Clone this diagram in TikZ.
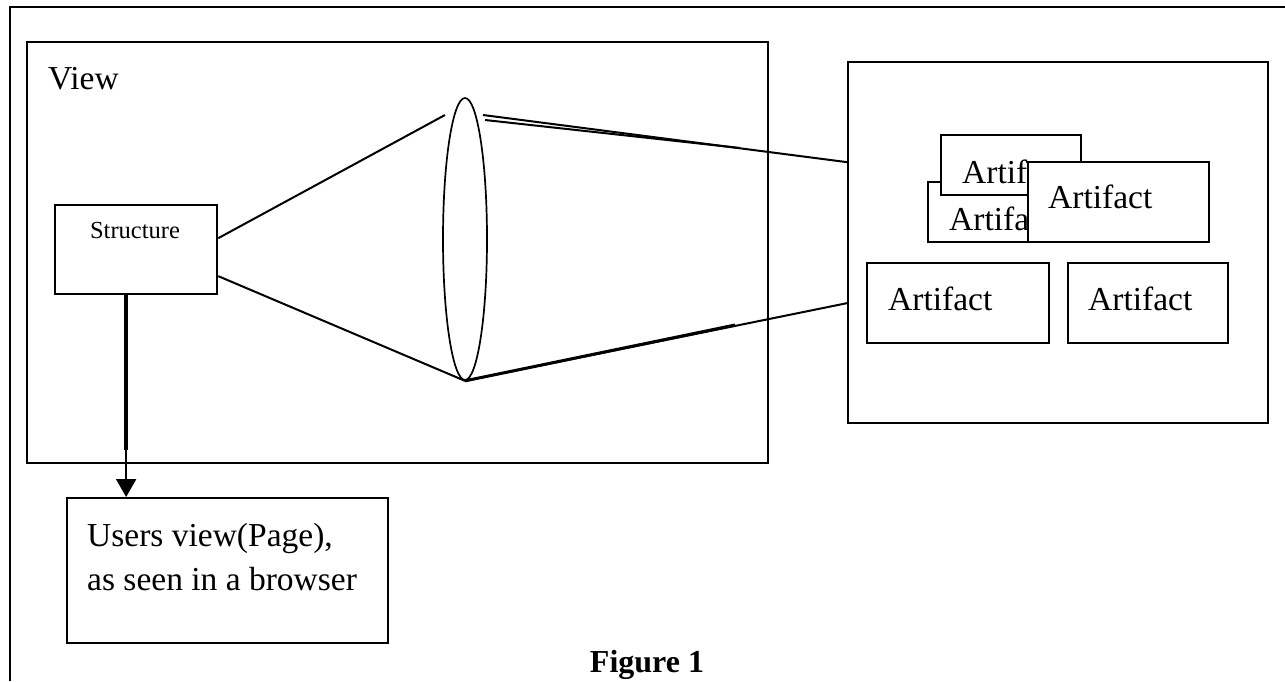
\documentclass[tikz,border=0pt]{standalone}
\usepackage{fontspec}
\setmainfont{Liberation Serif}
\usetikzlibrary{shapes.geometric,arrows.meta}
\begin{document}
\begin{tikzpicture}[x=1pt,y=-1pt,
  box/.style={draw, line width=2.3pt, inner sep=0pt, fill=white},
  abox/.style={draw, line width=2pt, inner sep=0pt, fill=white},
  lbl/.style={inner sep=0pt, font=\fontsize{33.5}{40}\selectfont},
  conn/.style={line width=2pt}]
\useasboundingbox (0,0) rectangle (1285,681);
% outer frame
\draw[line width=2pt] (1285,7) -- (10,7) -- (10,681);
% view box
\node[box, minimum width=741, minimum height=421, anchor=north west] (view) at (26,41) {};
\node[lbl, anchor=base west] (viewlbl) at (48,89) {View};
% structure
\node[box, minimum width=162, minimum height=89, anchor=north west] (struct) at (54,204) {};
\node[inner sep=0pt, font=\fontsize{24.5}{28}\selectfont, anchor=base] (structlbl) at (135,238) {Structure};
% lens
\node[draw, ellipse, line width=1.7pt, minimum width=44, minimum height=282, inner sep=0pt] (lens) at (465,239) {};
\coordinate (lensTL) at ([xshift=-20pt,yshift=124pt]lens.center);
\coordinate (lensTR) at ([xshift=18pt,yshift=124pt]lens.center);
\coordinate (lensTR2) at ([xshift=20pt,yshift=119pt]lens.center);
% repository box
\node[box, minimum width=420, minimum height=361, anchor=north west] (repo) at (847,61) {};
% connectors
\draw[conn] ([yshift=11.5pt]struct.east) -- (lensTL);
\draw[conn] ([yshift=-26.5pt]struct.east) -- (lens.south);
\draw[conn] (lensTR) -- ([yshift=80.5pt]repo.west);
\coordinate (dupend) at (740,148);
\draw[conn] (lensTR2) -- (dupend);
\draw[conn] (lens.south) -- ([yshift=-60.5pt]repo.west);
\coordinate (thickend) at (735,325);
\draw[line width=3pt] (lens.south) -- (thickend);
% artifacts
\node[abox, minimum width=140, minimum height=60, anchor=north west] (art2) at (927,181) {};
\node[lbl, anchor=base west] (art2lbl) at (949,230) {Artifact};
\node[abox, minimum width=140, minimum height=60, anchor=north west] (art1) at (940,134) {};
\node[lbl, anchor=base west] (art1lbl) at (962,183) {Artifact};
\node[abox, minimum width=181, minimum height=80, anchor=north west] (art3) at (1027,161) {};
\node[lbl, anchor=base west] (art3lbl) at (1048,208) {Artifact};
\node[abox, minimum width=182, minimum height=80, anchor=north west] (art4) at (866,262) {};
\node[lbl, anchor=base west] (art4lbl) at (888,310) {Artifact};
\node[abox, minimum width=160, minimum height=80, anchor=north west] (art5) at (1067,262) {};
\node[lbl, anchor=base west] (art5lbl) at (1088,310) {Artifact};
% users view
\node[abox, minimum width=321, minimum height=145, anchor=north west] (users) at (66,497) {};
\node[lbl, anchor=base west] (users1) at (87,546) {Users view(Page),};
\node[lbl, anchor=base west] (users2) at (87,590) {as seen in a browser};
% arrow
\coordinate (arrtop) at ([xshift=-10pt]struct.south);
\coordinate (arrmid) at (arrtop |- 0,450);
\draw[line width=4pt] (arrtop) -- (arrmid);
\draw[line width=2pt, -{Triangle[width=20pt,length=18pt]}] (arrtop) -- (arrtop |- users.north);
% caption
\node[inner sep=0pt, font=\bfseries\fontsize{32}{40}\selectfont, anchor=base] (cap) at (647,672) {Figure 1};
\end{tikzpicture}
\end{document}
